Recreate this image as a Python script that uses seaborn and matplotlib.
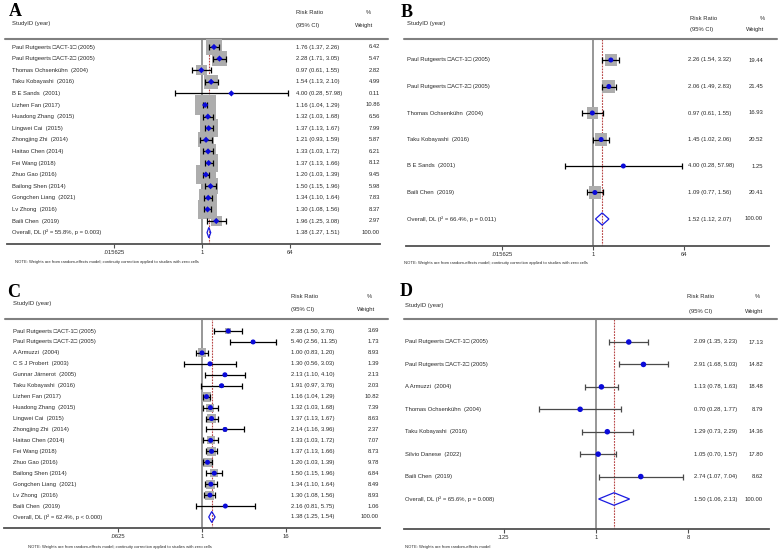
import numpy as np
import pandas as pd
import matplotlib
matplotlib.use("Agg")
import matplotlib.pyplot as plt
import seaborn as sns

sns.set_theme(style="ticks")
plt.rcParams['font.family'] = ['Liberation Sans', 'DejaVu Sans']

# ---------------- DATA ----------------
A_studies = ["Paul Rutgeerts \u25a1ACT-1\u25a1 (2005)", "Paul Rutgeerts \u25a1ACT-2\u25a1 (2005)",
             "Thomas Ochsenkühn  (2004)", "Taku Kobayashi  (2016)", "B E Sands  (2001)",
             "Lizhen Fan (2017)", "Huadong Zhang  (2015)", "Lingwei Cai  (2015)",
             "Zhongjing Zhi  (2014)", "Haitao Chen (2014)", "Fei Wang (2018)", "Zhuo Gao (2016)",
             "Bailong Shen (2014)", "Gongchen Liang  (2021)", "Lv Zhong  (2016)", "Baili Chen  (2019)"]
A_rr = [1.76, 2.28, 0.97, 1.54, 4.00, 1.16, 1.32, 1.37, 1.21, 1.33, 1.37, 1.20, 1.50, 1.34, 1.30, 1.96]
A_lo = [1.37, 1.71, 0.61, 1.13, 0.28, 1.04, 1.03, 1.13, 0.93, 1.03, 1.13, 1.03, 1.15, 1.10, 1.08, 1.25]
A_hi = [2.26, 3.05, 1.55, 2.10, 57.98, 1.29, 1.68, 1.67, 1.59, 1.72, 1.66, 1.39, 1.96, 1.64, 1.56, 3.08]
A_wt = [6.42, 5.47, 2.82, 4.99, 0.11, 10.86, 6.56, 7.99, 5.87, 6.21, 8.12, 9.45, 5.98, 7.83, 8.37, 2.97]
A_overall_label = "Overall, DL (I\u00b2 = 55.8%, p = 0.003)"
A_overall = [1.38, 1.27, 1.51]
A_ticks = [0.015625, 1, 64]
A_ticklabels = [".015625", "1", "64"]

B_studies = ["Paul Rutgeerts \u25a1ACT-1\u25a1 (2005)", "Paul Rutgeerts \u25a1ACT-2\u25a1 (2005)",
             "Thomas Ochsenkühn  (2004)", "Taku Kobayashi  (2016)", "B E Sands  (2001)",
             "Baili Chen  (2019)"]
B_rr = [2.26, 2.06, 0.97, 1.45, 4.00, 1.09]
B_lo = [1.54, 1.49, 0.61, 1.02, 0.28, 0.77]
B_hi = [3.32, 2.83, 1.55, 2.06, 57.98, 1.56]
B_wt = [19.44, 21.45, 16.93, 20.52, 1.25, 20.41]
B_overall_label = "Overall, DL (I\u00b2 = 66.4%, p = 0.011)"
B_overall = [1.52, 1.12, 2.07]
B_ticks = [0.015625, 1, 64]
B_ticklabels = [".015625", "1", "64"]

C_studies = ["Paul Rutgeerts \u25a1ACT-1\u25a1 (2005)", "Paul Rutgeerts \u25a1ACT-2\u25a1 (2005)",
             "A Armuzzi  (2004)", "C S J Probert  (2003)", "Gunnar Järnerot  (2005)",
             "Taku Kobayashi  (2016)", "Lizhen Fan (2017)", "Huadong Zhang  (2015)",
             "Lingwei Cai  (2015)", "Zhongjing Zhi  (2014)", "Haitao Chen (2014)", "Fei Wang (2018)",
             "Zhuo Gao (2016)", "Bailong Shen (2014)", "Gongchen Liang  (2021)", "Lv Zhong  (2016)",
             "Baili Chen  (2019)"]
C_rr = [2.38, 5.40, 1.00, 1.30, 2.13, 1.91, 1.16, 1.32, 1.37, 2.14, 1.33, 1.37, 1.20, 1.50, 1.34, 1.30, 2.16]
C_lo = [1.50, 2.56, 0.83, 0.56, 1.10, 0.97, 1.04, 1.03, 1.13, 1.16, 1.03, 1.13, 1.03, 1.15, 1.10, 1.08, 0.81]
C_hi = [3.76, 11.35, 1.20, 3.03, 4.10, 3.76, 1.29, 1.68, 1.67, 3.96, 1.72, 1.66, 1.39, 1.96, 1.64, 1.56, 5.75]
C_wt = [3.69, 1.73, 8.93, 1.39, 2.13, 2.03, 10.82, 7.39, 8.63, 2.37, 7.07, 8.73, 9.78, 6.84, 8.49, 8.93, 1.06]
C_overall_label = "Overall, DL (I\u00b2 = 62.4%, p < 0.000)"
C_overall = [1.38, 1.25, 1.54]
C_ticks = [0.0625, 1, 16]
C_ticklabels = [".0625", "1", "16"]

D_studies = ["Paul Rutgeerts \u25a1ACT-1\u25a1 (2005)", "Paul Rutgeerts \u25a1ACT-2\u25a1 (2005)",
             "A Armuzzi  (2004)", "Thomas Ochsenkühn  (2004)", "Taku Kobayashi  (2016)",
             "Silvio Danese  (2022)", "Baili Chen  (2019)"]
D_rr = [2.09, 2.91, 1.13, 0.70, 1.29, 1.05, 2.74]
D_lo = [1.35, 1.68, 0.78, 0.28, 0.73, 0.70, 1.07]
D_hi = [3.23, 5.03, 1.63, 1.77, 2.29, 1.57, 7.04]
D_wt = [17.13, 14.82, 18.48, 8.79, 14.36, 17.80, 8.62]
D_overall_label = "Overall, DL (I\u00b2 = 65.6%, p = 0.008)"
D_overall = [1.50, 1.06, 2.13]
D_ticks = [0.125, 1, 8]
D_ticklabels = [".125", "1", "8"]

NOTE_FULL = "NOTE: Weights are from random-effects model; continuity correction applied to studies with zero cells"
NOTE_SHORT = "NOTE: Weights are from random-effects model"

# ---------------- LAYOUT ----------------
W, H = 778, 557
fig = plt.figure(figsize=(W / 100, H / 100), dpi=100)
fig.patch.set_facecolor("white")

FS = 4.2
BLUE = "#0B0BD9"
TXT = "#2a2a2a"


def fx(px):
    return px / W


def fy(py):
    return 1 - py / H


def panel(letter, studies, rr, lo, hi, wt, ov_label, ov, ticks, ticklabels, note, L):
    x0, x1, ytop, ybot = L["x0"], L["x1"], L["ytop"], L["ybot"]
    p1, s, first, sp = L["p1"], L["s"], L["first"], L["sp"]
    ax = fig.add_axes([fx(x0), fy(ybot), (x1 - x0) / W, (ybot - ytop) / H])
    ax.set_facecolor("none")
    ax.set_xscale("log", base=2)
    ax.set_xlim(2 ** ((x0 - p1) / s), 2 ** ((x1 - p1) / s))
    ax.set_ylim((ybot - first) / sp, (ytop - first) / sp)

    df = pd.DataFrame({"study": studies, "rr": rr, "lo": lo, "hi": hi, "wt": wt})
    df["row"] = np.arange(len(df))
    n = len(df)

    ax.axvline(1, color="#858585", lw=1.2, zorder=1)
    ax.axvline(ov[0], color="#B84848", lw=0.8, ls=(0, (1.6, 1.0)), zorder=2)

    if L["box_k"] > 0:
        sns.scatterplot(data=df, x="rr", y="row", s=df["wt"].to_numpy() * L["box_k"], marker="s",
                        color="#ADADAD", edgecolor="none", linewidth=0, ax=ax, zorder=3, legend=False)
    ax.errorbar(df["rr"], df["row"], xerr=[df["rr"] - df["lo"], df["hi"] - df["rr"]], fmt="none",
                ecolor=L["ci"], elinewidth=0.9, capsize=L["cap"], capthick=0.9, zorder=4)
    sns.scatterplot(data=df, x="rr", y="row", marker=L["marker"], s=L["ms"], color=BLUE,
                    edgecolor="none", linewidth=0, ax=ax, zorder=5, legend=False)

    r, dh = n, L["dh"]
    ax.fill([ov[1], ov[0], ov[2], ov[0]], [r, r - dh, r, r + dh], facecolor="none",
            edgecolor="#1A1AE0", lw=0.9, zorder=5)

    # axes styling
    for sd in ["left", "right", "top"]:
        ax.spines[sd].set_visible(False)
    ax.spines["bottom"].set_color("#505050")
    ax.spines["bottom"].set_linewidth(1.3)
    ax.set_yticks([])
    ax.set_xticks(ticks)
    ax.set_xticklabels(ticklabels)
    ax.xaxis.set_minor_locator(matplotlib.ticker.NullLocator())
    ax.tick_params(axis="x", direction="out", length=3, width=0.8, color="#505050",
                   labelsize=FS, pad=1.5, labelcolor=TXT)
    ax.set_xlabel("")
    ax.set_ylabel("")

    # header line
    ax.plot([(L["hx0"] - x0) / (x1 - x0), (L["hx1"] - x0) / (x1 - x0)], [1, 1],
            transform=ax.transAxes, clip_on=False, color="#808080", lw=1.5)

    # text columns
    tr = ax.get_yaxis_transform()
    ax_frac = lambda px: (px - x0) / (x1 - x0)
    for i, row in df.iterrows():
        ax.text(ax_frac(L["tx"]), row["row"], row["study"], transform=tr, fontsize=FS,
                va="center", ha="left", color=TXT, clip_on=False)
        ax.text(ax_frac(L["rx"]), row["row"], f"{row['rr']:.2f} ({row['lo']:.2f}, {row['hi']:.2f})",
                transform=tr, fontsize=FS, va="center", ha="left", color=TXT, clip_on=False)
        ax.text(ax_frac(L["wx"]), row["row"], f"{row['wt']:.2f}", transform=tr, fontsize=FS,
                va="center", ha="right", color=TXT, clip_on=False)
    ax.text(ax_frac(L["tx"]), n, ov_label, transform=tr, fontsize=FS, va="center", ha="left",
            color=TXT, clip_on=False)
    ax.text(ax_frac(L["rx"]), n, f"{ov[0]:.2f} ({ov[1]:.2f}, {ov[2]:.2f})", transform=tr,
            fontsize=FS, va="center", ha="left", color=TXT, clip_on=False)
    ax.text(ax_frac(L["wx"]), n, "100.00", transform=tr, fontsize=FS, va="center", ha="right",
            color=TXT, clip_on=False)

    # headers
    hx = L["hdr"]
    fig.text(fx(hx["letter"][0]), fy(hx["letter"][1]), letter, fontsize=13, fontweight="bold",
             family="Liberation Serif", va="baseline", ha="left", color="black")
    fig.text(fx(L["tx"]), fy(hx["sid"]), "StudyID (year)", fontsize=FS, va="center", ha="left",
             color=TXT)
    fig.text(fx(hx["rr"][0]), fy(hx["rr"][1]), "Risk Ratio", fontsize=FS, va="center", ha="left",
             color=TXT)
    fig.text(fx(hx["ci"][0]), fy(hx["ci"][1]), "(95% CI)", fontsize=FS, va="center", ha="left",
             color=TXT)
    fig.text(fx(hx["pct"][0]), fy(hx["pct"][1]), "%", fontsize=FS, va="center", ha="center",
             color=TXT)
    fig.text(fx(hx["wtt"][0]), fy(hx["wtt"][1]), "Weight", fontsize=FS, va="center", ha="center",
             color=TXT)
    fig.text(fx(hx["note"][0]), fy(hx["note"][1]), note, fontsize=3.0, va="center", ha="left",
             color=TXT)
    return ax


LA = dict(x0=7, x1=380, ytop=39, ybot=244, p1=202, s=14.67, first=47, sp=11.6,
          box_k=20.6, ci="black", cap=2.2, marker="D", ms=10, dh=0.45, hx0=5, hx1=388,
          tx=12, rx=296, wx=380,
          hdr=dict(letter=(9, 16), sid=24, rr=(296, 13), ci=(296, 25), pct=(368, 13),
                   wtt=(364, 25), note=(15, 262)))
LB = dict(x0=406, x1=769, ytop=39, ybot=246, p1=593, s=15.17, first=60, sp=26.5,
          box_k=3.9, ci="black", cap=2.5, marker="o", ms=13, dh=0.23, hx0=404, hx1=777,
          tx=407, rx=688, wx=763,
          hdr=dict(letter=(401, 17), sid=24, rr=(690, 19), ci=(690, 30), pct=(762, 19),
                   wtt=(755, 30), note=(404, 263)))
LC = dict(x0=4, x1=380, ytop=319, ybot=528, p1=202, s=21.0, first=331, sp=10.94,
          box_k=4.66, ci="black", cap=2.2, marker="o", ms=13, dh=0.5, hx0=5, hx1=388,
          tx=13, rx=291, wx=379,
          hdr=dict(letter=(7, 297), sid=304, rr=(291, 297), ci=(291, 309), pct=(369, 297),
                   wtt=(366, 309), note=(28, 547)))
LD = dict(x0=404, x1=769, ytop=319, ybot=529, p1=596, s=30.8, first=342, sp=22.43,
          box_k=0, ci="#4A4A4A", cap=2.5, marker="o", ms=16, dh=0.28, hx0=404, hx1=777,
          tx=405, rx=694, wx=763,
          hdr=dict(letter=(400, 296), sid=305, rr=(687, 297), ci=(689, 312), pct=(757, 297),
                   wtt=(754, 312), note=(405, 547)))

panel("A", A_studies, A_rr, A_lo, A_hi, A_wt, A_overall_label, A_overall, A_ticks, A_ticklabels,
      NOTE_FULL, LA)
panel("B", B_studies, B_rr, B_lo, B_hi, B_wt, B_overall_label, B_overall, B_ticks, B_ticklabels,
      NOTE_FULL, LB)
panel("C", C_studies, C_rr, C_lo, C_hi, C_wt, C_overall_label, C_overall, C_ticks, C_ticklabels,
      NOTE_FULL, LC)
panel("D", D_studies, D_rr, D_lo, D_hi, D_wt, D_overall_label, D_overall, D_ticks, D_ticklabels,
      NOTE_SHORT, LD)

fig.savefig("out.png", dpi=100, facecolor="white")
